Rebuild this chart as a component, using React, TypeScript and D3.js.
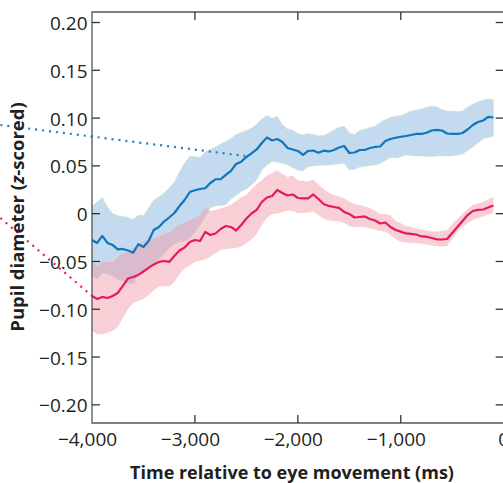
import { useEffect, useRef } from "react";
import * as d3 from "d3";

// time grid (ms relative to eye movement), one sample every 50 ms
const times: number[] = d3.range(-4000, -50, 50);

const blueMean = [
  -0.0275, -0.0306, -0.0233, -0.0306, -0.0327, -0.0374, -0.0369, -0.0385, -0.0408, -0.032,
  -0.0348, -0.0286, -0.017, -0.0139, -0.0082, -0.004, 0.0007, 0.008, 0.0143, 0.0227,
  0.0245, 0.0258, 0.0266, 0.0321, 0.036, 0.036, 0.0405, 0.0447, 0.052, 0.0544,
  0.0593, 0.063, 0.0672, 0.074, 0.0797, 0.0766, 0.0781, 0.075, 0.0687, 0.0672,
  0.0656, 0.0614, 0.0656, 0.0661, 0.0638, 0.0659, 0.0651, 0.0666, 0.0692, 0.0708,
  0.0635, 0.064, 0.0666, 0.0666, 0.0687, 0.0698, 0.0703, 0.076, 0.0781, 0.0794,
  0.0805, 0.0813, 0.0823, 0.0834, 0.0834, 0.0847, 0.087, 0.0876, 0.087, 0.0839,
  0.0834, 0.0834, 0.0844, 0.0881, 0.0928, 0.0959, 0.0975, 0.1012, 0.1006,
];
const blueUpper = [
  0.0075, 0.0122, 0.017, 0.007, 0.0002, -0.0019, -0.0029, -0.004, -0.0061, -0.0014,
  -0.0019, 0.006, 0.0143, 0.0175, 0.0217, 0.0269, 0.0332, 0.0436, 0.053, 0.06,
  0.0598, 0.0588, 0.0645, 0.0672, 0.0698, 0.0729, 0.0755, 0.0787, 0.0828, 0.0849,
  0.087, 0.0893, 0.0938, 0.0991, 0.1027, 0.0998, 0.1019, 0.0933, 0.0886, 0.0876,
  0.0839, 0.0823, 0.0839, 0.0828, 0.0813, 0.0818, 0.0844, 0.0876, 0.0902, 0.0917,
  0.0844, 0.0828, 0.087, 0.0886, 0.0902, 0.0917, 0.0954, 0.0985, 0.1006, 0.1022,
  0.1027, 0.1048, 0.1074, 0.1085, 0.1095, 0.1111, 0.1127, 0.1116, 0.109, 0.1074,
  0.1074, 0.1069, 0.1074, 0.1116, 0.1148, 0.1168, 0.1189, 0.12, 0.1189,
];
const blueLower = [
  -0.0641, -0.0683, -0.062, -0.0631, -0.0652, -0.0688, -0.0704, -0.0725, -0.0735, -0.0631,
  -0.0594, -0.0563, -0.0526, -0.0474, -0.0422, -0.0359, -0.0317, -0.0296, -0.0286, -0.0254,
  -0.0191, -0.0118, -0.0035, 0.006, 0.0081, 0.0086, 0.0091, 0.0154, 0.019, 0.0232,
  0.0258, 0.03, 0.0353, 0.0457, 0.0509, 0.0546, 0.0541, 0.0527, 0.0509, 0.0483,
  0.0452, 0.0447, 0.0494, 0.0499, 0.0504, 0.0509, 0.0509, 0.0515, 0.052, 0.0527,
  0.0457, 0.0462, 0.0488, 0.0494, 0.0504, 0.0509, 0.0527, 0.0556, 0.0588, 0.0583,
  0.0593, 0.0614, 0.0609, 0.0604, 0.0604, 0.0598, 0.0598, 0.0604, 0.0604, 0.0604,
  0.0604, 0.0614, 0.0624, 0.0661, 0.0698, 0.074, 0.0781, 0.0797, 0.0808,
];
const pinkMean = [
  -0.0861, -0.0892, -0.0871, -0.0882, -0.0861, -0.083, -0.0756, -0.0678, -0.0662, -0.0641,
  -0.0605, -0.0568, -0.0531, -0.0505, -0.0495, -0.0505, -0.0442, -0.0385, -0.0354, -0.0296,
  -0.0275, -0.0286, -0.0191, -0.0223, -0.0207, -0.016, -0.0129, -0.0139, -0.0176, -0.0118,
  -0.005, 0.0002, 0.0039, 0.0122, 0.0169, 0.0185, 0.0248, 0.0217, 0.019, 0.0201,
  0.0164, 0.0161, 0.0161, 0.0201, 0.0154, 0.0101, 0.0081, 0.007, 0.006, 0.0018,
  -0.0003, -0.004, -0.0035, -0.0029, -0.0055, -0.0071, -0.0103, -0.0092, -0.0139, -0.0171,
  -0.0188, -0.0207, -0.0212, -0.0218, -0.0238, -0.0241, -0.0254, -0.0268, -0.027, -0.0265,
  -0.0202, -0.0139, -0.0076, -0.0014, 0.0028, 0.0039, 0.0044, 0.0065, 0.0086,
];
const pinkUpper = [
  -0.0505, -0.0547, -0.0495, -0.0505, -0.0505, -0.0453, -0.0411, -0.0395, -0.0359, -0.0317,
  -0.0291, -0.027, -0.0254, -0.0238, -0.0212, -0.0202, -0.015, -0.0118, -0.0092, -0.0066,
  -0.0045, -0.0014, 0.0065, 0.0028, 0.0039, 0.0054, 0.007, 0.0096, 0.0133, 0.0169,
  0.0196, 0.0258, 0.0311, 0.0353, 0.04, 0.0426, 0.0457, 0.0415, 0.0384, 0.04,
  0.0347, 0.0342, 0.0337, 0.0358, 0.0305, 0.0258, 0.0222, 0.0196, 0.018, 0.0159,
  0.0128, 0.0101, 0.0091, 0.0075, 0.006, 0.0033, -0.0003, -0.0003, -0.0019, -0.0076,
  -0.01, -0.0129, -0.0139, -0.0155, -0.0165, -0.0176, -0.0186, -0.0186, -0.0181, -0.017,
  -0.0108, -0.0055, -0.0003, 0.0049, 0.0091, 0.0107, 0.0126, 0.0149, 0.0175,
];
const pinkLower = [
  -0.1227, -0.1258, -0.1264, -0.1243, -0.1227, -0.1185, -0.1091, -0.0997, -0.0934, -0.0913,
  -0.0892, -0.085, -0.0803, -0.0762, -0.0756, -0.0762, -0.0714, -0.0631, -0.0573, -0.0542,
  -0.0505, -0.049, -0.0479, -0.045, -0.0411, -0.038, -0.0369, -0.0364, -0.0359, -0.0343,
  -0.0306, -0.027, -0.0212, -0.0118, -0.0045, -0.0003, 0.0002, 0.0018, 0.0033, 0.0028,
  0.0007, 0.0007, 0.0013, 0.0023, -0.0014, -0.005, -0.0071, -0.0076, -0.0082, -0.0097,
  -0.0129, -0.0139, -0.0139, -0.0139, -0.0155, -0.0165, -0.0181, -0.0186, -0.0223, -0.0265,
  -0.0293, -0.0301, -0.0306, -0.0309, -0.0312, -0.0322, -0.0333, -0.0338, -0.0343, -0.0338,
  -0.0265, -0.0191, -0.0139, -0.0097, -0.0066, -0.0045, -0.0029, -0.0008, 0.0007,
];

// dotted leader lines coming in from the left edge: [time, value] pairs
const blueLeader: [number, number][] = [[-4890, 0.0928], [-2512, 0.0604]];
const pinkLeader: [number, number][] = [[-4890, -0.0045], [-4000, -0.086]];

const xTicks = [-4000, -3000, -2000, -1000, 0];
const xTickLabels = ["\u22124,000", "\u22123,000", "\u22122,000", "\u22121,000", "0"];
const yTicks = [0.2, 0.15, 0.1, 0.05, 0, -0.05, -0.1, -0.15, -0.2];
const yTickLabels = ["0.20", "0.15", "0.10", "0.05", "0", "\u22120.05", "\u22120.10", "\u22120.15", "\u22120.20"];

export default function App() {
  const ref = useRef<SVGSVGElement>(null);

  useEffect(() => {
    const width = 503;
    const height = 483;
    const left = 92;
    const right = 503.7;
    const top = 12;
    const bottom = 423;
    const font = "'Open Sans', 'Noto Sans', sans-serif";

    const x = d3.scaleLinear().domain([-4000, 0]).range([left, right]);
    const y = d3.scaleLinear().domain([-0.219, 0.211]).range([bottom, top]);

    const svg = d3.select(ref.current);
    svg.selectAll("*").remove();
    svg.attr("width", width).attr("height", height);

    const band = (lo: number[], hi: number[]) =>
      d3
        .area<number>()
        .x((d) => x(d))
        .y0((_, i) => y(lo[i]))
        .y1((_, i) => y(hi[i]))(times);

    const line = (vals: number[]) =>
      d3
        .line<number>()
        .x((d) => x(d))
        .y((_, i) => y(vals[i]))(times);

    // confidence bands
    svg
      .append("path")
      .attr("d", band(blueLower, blueUpper))
      .attr("fill", "#c4daef")
      .attr("stroke", "#d7e6c8")
      .attr("stroke-width", 0.7);

    svg
      .append("path")
      .attr("d", band(pinkLower, pinkUpper))
      .attr("fill", "#f29aa8")
      .attr("fill-opacity", 0.47);

    // dotted leaders
    const leader = d3
      .line<[number, number]>()
      .x((d) => x(d[0]))
      .y((d) => y(d[1]));

    svg
      .append("path")
      .attr("d", leader(blueLeader))
      .attr("fill", "none")
      .attr("stroke", "#1a7fc4")
      .attr("stroke-width", 2.2)
      .attr("stroke-dasharray", "2,5");

    svg
      .append("path")
      .attr("d", leader(pinkLeader))
      .attr("fill", "none")
      .attr("stroke", "#e8195f")
      .attr("stroke-width", 2.2)
      .attr("stroke-dasharray", "2,5");

    // mean lines
    svg
      .append("path")
      .attr("d", line(blueMean))
      .attr("fill", "none")
      .attr("stroke", "#0a77bf")
      .attr("stroke-width", 2.2)
      .attr("stroke-linejoin", "round");

    svg
      .append("path")
      .attr("d", line(pinkMean))
      .attr("fill", "none")
      .attr("stroke", "#e6195e")
      .attr("stroke-width", 2.2)
      .attr("stroke-linejoin", "round");

    // frame
    svg
      .append("path")
      .attr("d", `M${right},${top}H${left}V${bottom}H${right}`)
      .attr("fill", "none")
      .attr("stroke", "#555")
      .attr("stroke-width", 1.3);

    const tickLen = 8;
    const ticks = svg.append("g").attr("stroke", "#333").attr("stroke-width", 1.3);

    yTicks.forEach((v) => {
      ticks.append("line").attr("x1", left).attr("x2", left + tickLen).attr("y1", y(v)).attr("y2", y(v));
      ticks.append("line").attr("x1", right).attr("x2", right - tickLen).attr("y1", y(v)).attr("y2", y(v));
    });
    xTicks.slice(1, -1).forEach((t) => {
      ticks.append("line").attr("x1", x(t)).attr("x2", x(t)).attr("y1", top).attr("y2", top + tickLen);
      ticks.append("line").attr("x1", x(t)).attr("x2", x(t)).attr("y1", bottom).attr("y2", bottom - tickLen);
    });

    // tick labels
    svg
      .append("g")
      .selectAll("text")
      .data(yTicks)
      .enter()
      .append("text")
      .attr("x", left - 4.5)
      .attr("y", (d) => y(d) + 7.5)
      .attr("text-anchor", "end")
      .style("font-family", font)
      .style("font-size", "19px")
      .style("fill", "#231f20")
      .text((_, i) => yTickLabels[i]);

    svg
      .append("g")
      .selectAll("text")
      .data(xTicks)
      .enter()
      .append("text")
      .attr("x", (d) => x(d) + (d < 0 ? -4.5 : 0))
      .attr("y", 446)
      .attr("text-anchor", "middle")
      .style("font-family", font)
      .style("font-size", "19px")
      .style("fill", "#231f20")
      .text((_, i) => xTickLabels[i]);

    // axis titles
    svg
      .append("text")
      .attr("x", 292)
      .attr("y", 479)
      .attr("text-anchor", "middle")
      .style("font-family", font)
      .style("font-size", "18px")
      .style("font-weight", "bold")
      .style("fill", "#231f20")
      .text("Time relative to eye movement (ms)");

    const yt = svg
      .append("text")
      .attr("transform", "translate(24,217) rotate(-90)")
      .attr("text-anchor", "middle")
      .style("font-family", font)
      .style("font-size", "18.5px")
      .style("font-weight", "bold")
      .style("fill", "#231f20");
    yt.append("tspan").text("Pupil diameter (");
    yt.append("tspan").style("font-style", "italic").text("z");
    yt.append("tspan").text("-scored)");
  }, []);

  return <svg ref={ref} style={{ position: "absolute", left: 0, top: 0, display: "block" }} />;
}
